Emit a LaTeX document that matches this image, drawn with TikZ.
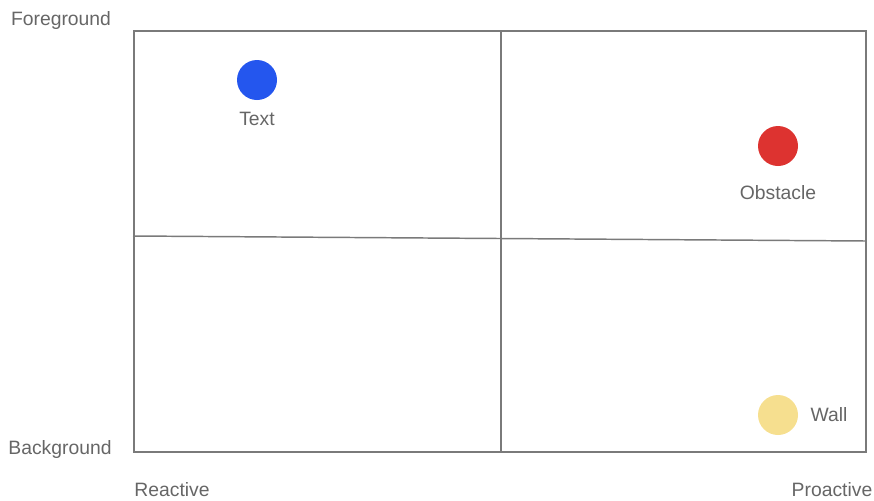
\documentclass[tikz,border=0pt]{standalone}
\usepackage{fontspec}
\setmainfont{Liberation Sans}
\usetikzlibrary{positioning}
\definecolor{DotBlue}{HTML}{2456EE}
\definecolor{DotRed}{HTML}{DD3330}
\definecolor{DotYellow}{HTML}{F6DF8F}
\definecolor{LineGray}{HTML}{7A7A7A}
\definecolor{LabelGray}{HTML}{666666}
\begin{document}
\begin{tikzpicture}[x=0.75pt,y=-0.75pt,
  lbl/.style={text=LabelGray,font=\fontsize{14.5}{17}\selectfont,inner sep=0pt},
  dot/.style={circle,minimum size=30pt,inner sep=0pt},
  grid/.style={LineGray,line width=1.1pt}]
  \useasboundingbox (0,0) rectangle (874,500);
  % quadrant frame
  \draw[grid] (134,31) rectangle (866,452);
  \draw[grid] (501,31)--(501,452);
  \draw[grid] (133,236)--(866,241);
  % axis labels
  \node[lbl] (fg) at (61,20) {Foreground};
  \node[lbl] (bg) at (60,449) {Background};
  \node[lbl] (reactive) at (172,490) {Reactive};
  \node[lbl] (proactive) at (832,490) {Proactive};
  % items
  \node[dot,fill=DotBlue] (text) at (257,80) {};
  \node[lbl,below=9pt of text] (textlbl) {Text};
  \node[dot,fill=DotRed] (obstacle) at (778,146) {};
  \node[lbl,below=14pt of obstacle] (obstaclelbl) {Obstacle};
  \node[dot,fill=DotYellow] (wall) at (778,415) {};
  \node[lbl,right=9pt of wall] (walllbl) {Wall};
\end{tikzpicture}
\end{document}
